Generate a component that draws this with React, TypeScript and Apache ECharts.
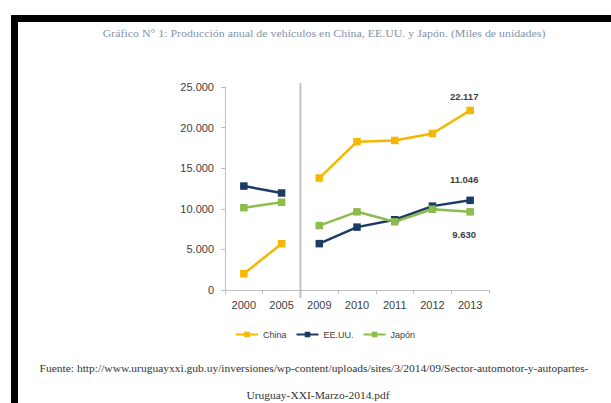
import React, { useEffect, useRef } from "react";
import * as echarts from "echarts";

const years = ["2000", "2005", "2009", "2010", "2011", "2012", "2013"];
const chinaEarly = [2000, 5700, null, null, null, null, null];
const chinaLate = [null, null, 13790, 18265, 18419, 19272, 22117];
const usaEarly = [12800, 11947, null, null, null, null, null];
const usaLate = [null, null, 5710, 7743, 8654, 10329, 11046];
const japanEarly = [10141, 10800, null, null, null, null, null];
const japanLate = [null, null, 7934, 9629, 8399, 9943, 9630];
const seriesNames = ["China", "EE.UU.", "Japón"];
const titleText = "Gráfico N° 1: Producción anual de vehículos en China, EE.UU. y Japón. (Miles de unidades)";
const sourceLine1 = "Fuente: http://www.uruguayxxi.gub.uy/inversiones/wp-content/uploads/sites/3/2014/09/Sector-automotor-y-autopartes-";
const sourceLine2 = "Uruguay-XXI-Marzo-2014.pdf";

const colors = ["#F6B700", "#1B3A64", "#8CBB4E"];

const fmt = (v: number) => String(Math.round(v)).replace(/\B(?=(\d{3})+(?!\d))/g, ".");

export default function App() {
  const ref = useRef<HTMLDivElement>(null);
  useEffect(() => {
    const chart = echarts.init(ref.current!, null, { renderer: "svg" });
    const mk = (name: string, data: (number | null)[], color: string, last: boolean, labelPos?: string, dist?: number) => ({
      name,
      type: "line",
      data: data.map((v, i) =>
        last && i === data.length - 1
          ? {
              value: v,
              label: {
                show: true,
                position: labelPos,
                distance: dist,
                offset: [-6, 0],
                formatter: (p: any) => fmt(p.value),
                fontFamily: "Liberation Sans",
                fontSize: 9.5,
                fontWeight: "bold",
                color: "#404040",
              },
            }
          : v
      ),
      color,
      symbol: "rect",
      symbolSize: 7.5,
      lineStyle: { width: 2.5, color },
      itemStyle: { color },
      connectNulls: false,
    });
    chart.setOption({
      animation: false,
      grid: { left: 225, right: 122, top: 87, bottom: 113 },
      legend: {
        left: 230,
        top: 325,
        itemWidth: 22,
        itemHeight: 7,
        itemGap: 9,
        data: seriesNames,
        textStyle: { fontFamily: "Liberation Sans", fontSize: 9, color: "#404040" },
      },
      xAxis: {
        type: "category",
        data: years,
        boundaryGap: true,
        axisLine: { lineStyle: { color: "#bfbfbf", width: 1 } },
        axisTick: { show: true, length: 4, lineStyle: { color: "#bfbfbf" } },
        axisLabel: { fontFamily: "Liberation Sans", fontSize: 11, color: "#404040", margin: 9 },
      },
      yAxis: {
        type: "value",
        min: 0,
        max: 25000,
        interval: 5000,
        axisLine: { show: true, lineStyle: { color: "#bfbfbf", width: 1 } },
        axisTick: { show: true, length: 4, lineStyle: { color: "#bfbfbf" } },
        splitLine: { show: false },
        axisLabel: {
          fontFamily: "Liberation Sans",
          fontSize: 11,
          color: "#404040",
          margin: 11,
          formatter: (v: number) => fmt(v),
        },
      },
      series: [
        mk("China", chinaEarly, colors[0], false),
        mk("China", chinaLate, colors[0], true, "top", 5),
        mk("EE.UU.", usaEarly, colors[1], false),
        mk("EE.UU.", usaLate, colors[1], true, "top", 12),
        mk("Japón", japanEarly, colors[2], false),
        mk("Japón", japanLate, colors[2], true, "bottom", 14),
      ],
    });
    const p1 = chart.convertToPixel({ xAxisIndex: 0 }, 1) as number;
    const p2 = chart.convertToPixel({ xAxisIndex: 0 }, 2) as number;
    const y0 = chart.convertToPixel({ yAxisIndex: 0 }, 0) as number;
    const yTop = chart.convertToPixel({ yAxisIndex: 0 }, 25000) as number;
    const sepX = (p1 + p2) / 2;
    chart.setOption({
      graphic: [
        { type: "rect", shape: { x: 11, y: 15, width: 7, height: 400 }, style: { fill: "#000" } },
        { type: "rect", shape: { x: 11, y: 15, width: 610, height: 7 }, style: { fill: "#000" } },
        {
          type: "line",
          shape: { x1: sepX, y1: yTop - 4, x2: sepX, y2: y0 + 8 },
          style: { stroke: "#c4c4c4", lineWidth: 2 },
        },
        {
          type: "text",
          x: 324,
          y: 33,
          scaleX: 1.19,
          style: {
            text: titleText,
            fontFamily: "Liberation Serif",
            fontSize: 10,
            fill: "#8593aa",
            align: "center",
            verticalAlign: "middle",
          },
        },
        {
          type: "text",
          x: 314,
          y: 368,
          scaleX: 1.15,
          style: {
            text: sourceLine1,
            fontFamily: "Liberation Serif",
            fontSize: 10,
            fill: "#333",
            align: "center",
            verticalAlign: "middle",
          },
        },
        {
          type: "text",
          x: 318,
          y: 395,
          scaleX: 1.15,
          style: {
            text: sourceLine2,
            fontFamily: "Liberation Serif",
            fontSize: 10,
            fill: "#333",
            align: "center",
            verticalAlign: "middle",
          },
        },
      ],
    });
    return () => chart.dispose();
  }, []);
  return (
    <div
      ref={ref}
      style={{ position: "fixed", left: 0, top: 0, width: 611, height: 403, background: "#fff" }}
    />
  );
}
